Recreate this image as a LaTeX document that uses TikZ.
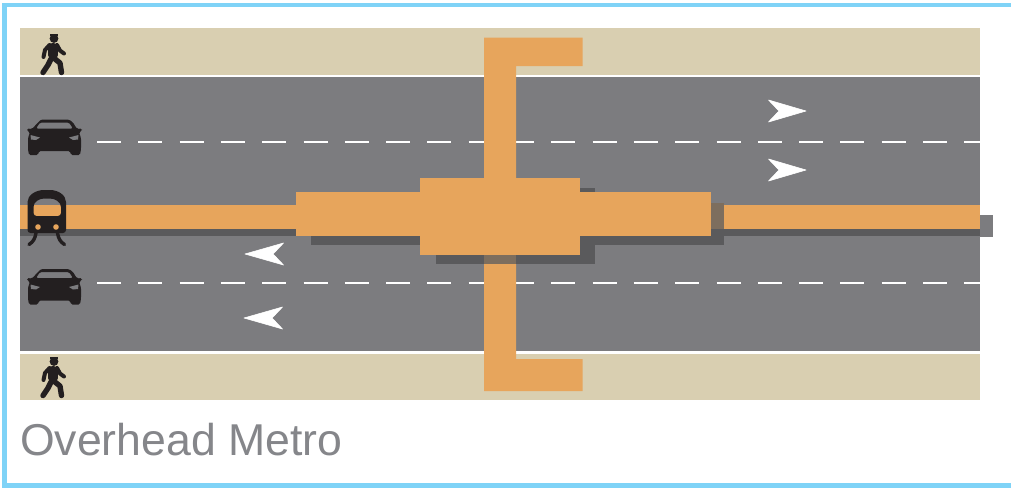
\documentclass[tikz,border=0pt]{standalone}
\usepackage{fontspec}
\setmainfont{Liberation Sans}
\definecolor{frameblue}{HTML}{7FD3F7}
\definecolor{walk}{HTML}{D9CFB1}
\definecolor{road}{HTML}{7C7C7F}
\definecolor{deck}{HTML}{E7A55C}
\definecolor{shade}{HTML}{5A5A5C}
\definecolor{shadedeck}{HTML}{7D6E5E}
\definecolor{ink}{HTML}{231F20}
\definecolor{caption}{HTML}{85868A}
\tikzset{
  walkfill/.style={fill=walk,draw=none},
  roadfill/.style={fill=road,draw=none},
  deckfill/.style={fill=deck,draw=none},
  shadefill/.style={fill=shade,draw=none},
  shadedeckfill/.style={fill=shadedeck,draw=none},
  lanedash/.style={draw=white,line width=2.4pt,dash pattern=on 24pt off 17.3pt},
  edgeline/.style={draw=white,line width=2.4pt},
  flow/.style={fill=white,draw=white,line width=0.6pt,line join=round},
  pics/walker/.style={code={
    \fill[ink] (14,6.5) circle (4.4);
    \fill[ink] (10,2.2) rectangle (18,4.4);
    \draw[ink,line width=9.5pt,line cap=round,line join=round] (13,15.5) -- (13,23);
    \draw[ink,line width=4pt,line cap=round,line join=round] (9.5,13) -- (5,18) -- (3.5,25);
    \draw[ink,line width=4pt,line cap=round,line join=round] (17,13) -- (20,18.5) -- (24,21.5);
    \draw[ink,line width=5.4pt,line cap=round,line join=round] (11,27) -- (8,33) -- (3,40.5);
    \draw[ink,line width=5.4pt,line cap=round,line join=round] (15,27) -- (20,31) -- (21.5,40.5);
  }},
  pics/motorcar/.style={code={
    \fill[ink,even odd rule,rounded corners=1.5pt]
      (11,3.5) -- (14,0.5) -- (42,0.5) -- (46,3.5) -- (50,10) -- (55,9.5) -- (55,12) -- (52,13)
      -- (54,19) -- (54,30) -- (53,36) -- (44,36) -- (43,32) -- (12,32) -- (11,36) -- (2,36)
      -- (1,30) -- (1,19) -- (3,13) -- (0,12) -- (0,9.5) -- (5,10) -- cycle
      (13,3.5) -- (9,9.5) -- (46,9.5) -- (42,3.5) -- cycle;
    \fill[road] (3.5,16) -- (13,18.5) -- (9,21) -- (4,20.5) -- cycle;
    \fill[road] (51.5,16) -- (42,18.5) -- (46,21) -- (51,20.5) -- cycle;
  }}
}
\begin{document}
\begin{tikzpicture}[x=1pt,y=-1pt]
\useasboundingbox (0,0) rectangle (1011,488);
\fill[white] (0,0) rectangle (1011,488);
% frame, open on the right
\draw[frameblue,line width=4.4pt] (1011,5) -- (4.5,5) -- (4.5,485.5) -- (1011,485.5);
% ground
\fill[walkfill] (20,28) rectangle (980,400);
\fill[roadfill] (20,76) rectangle (980,352);
\draw[edgeline] (20,76) -- (980,76);
\draw[edgeline] (20,352.5) -- (980,352.5);
\draw[lanedash] (97,142) -- (980,142);
\draw[lanedash] (97,283) -- (980,283);
% direction arrows
\foreach \ax/\ay in {768/111,768/170}{
  \fill[flow] (\ax+0.5,\ay-11) -- (\ax+38,\ay) -- (\ax+0.5,\ay+11) -- (\ax+11,\ay) -- cycle;
}
\foreach \ax/\ay in {284/254,283/318}{
  \fill[flow] (\ax-0.5,\ay-11) -- (\ax-39,\ay) -- (\ax-0.5,\ay+11) -- (\ax-11,\ay) -- cycle;
}
% viaduct shadow
\fill[shadefill] (20,229) rectangle (980,236);
\fill[fill=road,draw=none] (980,215) rectangle (993,237);
% viaduct track
\fill[deckfill] (20,205) rectangle (725,229);
% stairs
\fill[deckfill] (484,37.5) -- (582.5,37.5) -- (582.5,66) -- (516,66) -- (516,178) -- (484,178) -- cycle;
\fill[deckfill] (484,255) -- (516,255) -- (516,359) -- (582.5,359) -- (582.5,391) -- (484,391) -- cycle;
% station shadow
\fill[shadefill] (311,236) rectangle (420,245);
\fill[shadefill] (436,255) rectangle (595,264);
\fill[shadefill] (580,236) rectangle (595,255);
\fill[shadefill] (580,236) rectangle (724,245);
\fill[shadefill] (580,188) rectangle (595,192);
\fill[shadefill] (711,229) rectangle (724,245);
\fill[shadedeckfill] (711,203) rectangle (724,229);
\fill[shadedeckfill] (484,255) rectangle (516,264);
% station
\fill[deckfill] (295.5,192) rectangle (711,236);
\fill[deckfill] (420,178) rectangle (580,255);
% right track
\fill[deckfill] (725,205) rectangle (980,229);
% train
\fill[ink,even odd rule,rounded corners=3pt]
  (27.5,233) -- (27.5,205) .. controls (27.5,195) and (36,190) .. (47,190) .. controls (58,190) and (66,195) .. (66,205) -- (66,233) -- cycle
  (33.5,210) .. controls (33.5,202) and (39,198.5) .. (47,198.5) .. controls (55,198.5) and (61,202) .. (61,210) -- (61,216) -- (33.5,216) -- cycle;
\fill[deck] (38,227) circle (2.8);
\fill[deck] (56,227) circle (2.8);
\draw[ink,line width=3.4pt,line cap=round] (36,233) .. controls (35,239) and (33,242) .. (29,244.5);
\draw[ink,line width=3.4pt,line cap=round] (57.5,233) .. controls (58.5,239) and (60.5,242) .. (64.5,244.5);
% cars
\pic at (27,119) {motorcar};
\pic at (27,268.5) {motorcar};
% pedestrians
\pic at (40,32) {walker};
\pic at (40,355) {walker};
% caption
\node[anchor=base west,inner sep=0pt,text=caption,font=\fontsize{44.6}{50}\selectfont] (cap) at (20,455) {Overhead Metro};
\end{tikzpicture}
\end{document}
